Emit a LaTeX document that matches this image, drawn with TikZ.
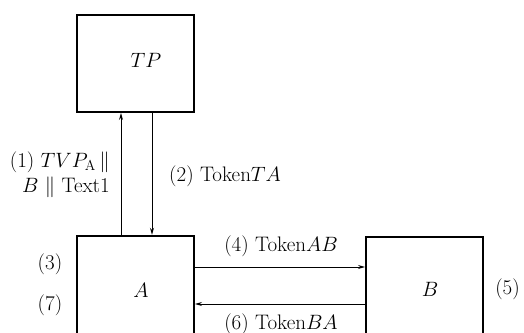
\documentclass[tikz,border=0pt]{standalone}
\usetikzlibrary{arrows.meta}
\begin{document}
\begin{tikzpicture}[x=1pt,y=1pt,
  box/.style={draw,line width=2.4pt,minimum width=116.5pt,inner sep=0pt,outer sep=1.2pt},
  lbl/.style={inner sep=0pt,font=\fontsize{21}{25}\selectfont},
  conn/.style={line width=1pt,-{Stealth[length=7pt,width=4pt]}}]
\useasboundingbox (0,0) rectangle (524,332);
\clip (0,0) rectangle (524,332);
\node[box,minimum height=96.5pt] (TP) at (135.5,268.5) {};
\node[box,minimum height=110pt] (A) at (135.5,41) {};
\node[box,minimum height=110pt] (B) at (424.5,40) {};
\node[lbl] (tTP) at (146,272) {$TP$};
\node[lbl] (tA) at (141,42) {$A$};
\node[lbl] (tB) at (430,43) {$B$};
\draw[conn] ([xshift=-14.5pt]A.north) -- ([xshift=-14.5pt]TP.south);
\draw[conn] ([xshift=16.5pt]TP.south) -- ([xshift=16.5pt]A.north);
\draw[conn] ([yshift=24pt]A.east) -- ([yshift=25pt]B.west);
\draw[conn] ([yshift=-12pt]B.west) -- ([yshift=-13pt]A.east);
\node[lbl,align=right,anchor=east] (l1) at (110,157.5) {(1) $TVP_{\mathrm{A}}\,\|$\\$B\ \|\ $Text1};
\node[lbl,anchor=west] (l2) at (169,156) {(2) Token$TA$};
\node[lbl] (l3) at (50,68) {(3)};
\node[lbl] (l7) at (50,27) {(7)};
\node[lbl] (l4) at (281,86) {(4) Token$AB$};
\node[lbl] (l6) at (281,8) {(6) Token$BA$};
\node[lbl] (l5) at (507.5,43) {(5)};
\end{tikzpicture}
\end{document}
